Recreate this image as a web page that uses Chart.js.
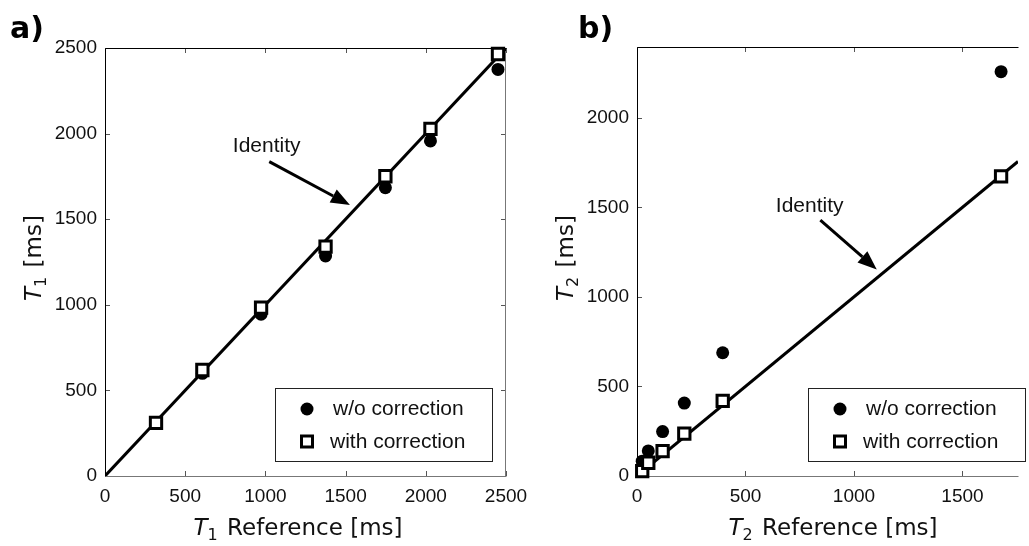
<!DOCTYPE html>
<html>
<head>
<meta charset="utf-8">
<script src="https://cdn.jsdelivr.net/npm/chart.js@4.4.1/dist/chart.umd.min.js"></script>
<style>
  html, body { margin: 0; padding: 0; background: #fff; }
  #wrap { position: relative; width: 1029px; height: 546px; overflow: hidden; }
  canvas { position: absolute; top: 0; }
</style>
</head>
<body>
<div id="wrap">
  <canvas id="chartA" width="540" height="546" style="left:0px"></canvas>
  <canvas id="chartB" width="509" height="546" style="left:520px"></canvas>
</div>
<script>
// panel a) T1
const t1Reference = [318, 607, 973, 1375, 1748, 2029, 2450];
const t1WithoutCorr = [308, 600, 945, 1285, 1684, 1957, 2375];
const t1WithCorr = [310, 619, 983, 1340, 1751, 2028, 2465];
const t1Ticks = [0, 500, 1000, 1500, 2000, 2500];

// panel b) T2
const t2Reference = [24, 52, 118, 218, 395, 1678];
const t2WithoutCorr = [83, 140, 248, 407, 688, 2257];
const t2WithCorr = [27, 74, 139, 237, 419, 1673];
const t2XTicks = [0, 500, 1000, 1500];
const t2YTicks = [0, 500, 1000, 1500, 2000];

const legendLabels = ['w/o correction', 'with correction'];

function pts(xs, ys) {
  return xs.map((x, i) => ({ x: x, y: ys[i] }));
}

function drawTitle(ctx, cx, cy, sub, rest, rotate) {
  ctx.save();
  ctx.translate(cx, cy);
  if (rotate) ctx.rotate(-Math.PI / 2);
  ctx.fillStyle = '#111';
  ctx.textBaseline = 'alphabetic';
  const big = 'italic 23px "DejaVu Sans"';
  const small = '16px "DejaVu Sans"';
  const norm = '23px "DejaVu Sans"';
  ctx.font = big; const wT = ctx.measureText('T').width;
  ctx.font = small; const wS = ctx.measureText(sub).width;
  ctx.font = norm; const wR = ctx.measureText(rest).width;
  let x = -(wT + wS + 2 + wR) / 2;
  const base = 8;
  ctx.font = big; ctx.textAlign = 'left'; ctx.fillText('T', x, base); x += wT;
  ctx.font = small; ctx.fillText(sub, x, base + 5); x += wS + 2;
  ctx.font = norm; ctx.fillText(rest, x, base);
  ctx.restore();
}

function drawArrow(ctx, x0, y0, x1, y1) {
  const ang = Math.atan2(y1 - y0, x1 - x0);
  const hl = 19, hw = 7.5;
  ctx.save();
  ctx.strokeStyle = '#000';
  ctx.fillStyle = '#000';
  ctx.lineWidth = 3;
  ctx.beginPath();
  ctx.moveTo(x0, y0);
  ctx.lineTo(x1 - hl * Math.cos(ang), y1 - hl * Math.sin(ang));
  ctx.stroke();
  ctx.beginPath();
  ctx.moveTo(x1, y1);
  ctx.lineTo(x1 - hl * Math.cos(ang) + hw * Math.sin(ang), y1 - hl * Math.sin(ang) - hw * Math.cos(ang));
  ctx.lineTo(x1 - hl * Math.cos(ang) - hw * Math.sin(ang), y1 - hl * Math.sin(ang) + hw * Math.cos(ang));
  ctx.closePath();
  ctx.fill();
  ctx.restore();
}

// frame, inward ticks, annotation, legend, titles
const decor = {
  id: 'decor',
  beforeDatasetsDraw(chart, args, o) {
    const ctx = chart.ctx;
    const a = chart.chartArea;
    ctx.save();
    ctx.lineWidth = 1;
    ctx.strokeStyle = '#555';
    chart.scales.x.ticks.forEach(t => {
      const px = Math.round(chart.scales.x.getPixelForValue(t.value)) + 0.5;
      ctx.beginPath();
      ctx.moveTo(px, a.bottom); ctx.lineTo(px, a.bottom - 5);
      ctx.moveTo(px, a.top); ctx.lineTo(px, a.top + 5);
      ctx.stroke();
    });
    chart.scales.y.ticks.forEach(t => {
      const py = Math.round(chart.scales.y.getPixelForValue(t.value)) + 0.5;
      ctx.beginPath();
      ctx.moveTo(a.left, py); ctx.lineTo(a.left + 5, py);
      if (o.rightBorder) { ctx.moveTo(a.right, py); ctx.lineTo(a.right - 5, py); }
      ctx.stroke();
    });
    const l = Math.round(a.left) + 0.5, t = Math.round(a.top) + 0.5;
    const r = Math.round(a.right) - 0.5, b = Math.round(a.bottom) + 0.5;
    ctx.strokeStyle = '#000';
    ctx.beginPath();
    ctx.moveTo(l, b); ctx.lineTo(l, t); ctx.lineTo(r + 1, t);
    ctx.stroke();
    ctx.strokeStyle = '#777';
    ctx.beginPath();
    ctx.moveTo(l, b); ctx.lineTo(r + 1, b);
    if (o.rightBorder) { ctx.moveTo(r, b); ctx.lineTo(r, t); }
    ctx.stroke();
    ctx.restore();
  },
  afterDatasetsDraw(chart, args, o) {
    const ctx = chart.ctx;
    const sx = chart.scales.x, sy = chart.scales.y;
    // "Identity" note and arrow
    ctx.save();
    ctx.font = '21px "Liberation Sans"';
    ctx.fillStyle = '#111';
    ctx.textAlign = 'center';
    ctx.textBaseline = 'middle';
    ctx.fillText('Identity', sx.getPixelForValue(o.note[0]), sy.getPixelForValue(o.note[1]));
    ctx.restore();
    drawArrow(ctx, sx.getPixelForValue(o.arrow[0]), sy.getPixelForValue(o.arrow[1]),
      sx.getPixelForValue(o.arrow[2]), sy.getPixelForValue(o.arrow[3]));
    // legend box
    const lg = o.legend;
    ctx.save();
    ctx.fillStyle = '#fff';
    ctx.fillRect(lg.x, lg.y, lg.w, lg.h);
    ctx.strokeStyle = '#222';
    ctx.lineWidth = 1;
    ctx.strokeRect(lg.x + 0.5, lg.y + 0.5, lg.w, lg.h);
    ctx.fillStyle = '#000';
    ctx.beginPath();
    ctx.arc(lg.x + 32, lg.y + 21, 6.5, 0, Math.PI * 2);
    ctx.fill();
    ctx.fillStyle = '#fff';
    ctx.strokeStyle = '#000';
    ctx.lineWidth = 3;
    ctx.fillRect(lg.x + 26.5, lg.y + 48, 11, 11);
    ctx.strokeRect(lg.x + 26.5, lg.y + 48, 11, 11);
    ctx.font = '21px "Liberation Sans"';
    ctx.fillStyle = '#111';
    ctx.textAlign = 'left';
    ctx.textBaseline = 'middle';
    ctx.fillText(legendLabels[0], lg.x + 58, lg.y + 21);
    ctx.fillText(legendLabels[1], lg.x + 55, lg.y + 54);
    ctx.restore();
    // panel label and axis titles
    ctx.save();
    ctx.font = 'bold 30px "DejaVu Sans"';
    ctx.fillStyle = '#000';
    ctx.textAlign = 'left';
    ctx.textBaseline = 'middle';
    ctx.fillText(o.panel, o.panelX, 30);
    ctx.restore();
    drawTitle(ctx, o.xTitleX, 527, o.sub, ' Reference [ms]', false);
    drawTitle(ctx, o.yTitleX, 258, o.sub, ' [ms]', true);
  }
};

function makeChart(id, ref, noCorr, corr, lim, xTicks, yTicks, xMax, yMax, yAxisW, pad, deco) {
  const tickFont = { family: 'Liberation Sans', size: 19 };
  new Chart(document.getElementById(id), {
    type: 'scatter',
    data: {
      datasets: [
        {
          label: 'Identity',
          data: [{ x: 0, y: 0 }, { x: lim, y: lim }],
          showLine: true,
          borderColor: '#000',
          borderWidth: 3,
          pointRadius: 0,
          order: 3
        },
        {
          label: legendLabels[0],
          data: pts(ref, noCorr),
          pointStyle: 'circle',
          pointRadius: 6.5,
          backgroundColor: '#000',
          borderWidth: 0,
          clip: false,
          order: 2
        },
        {
          label: legendLabels[1],
          data: pts(ref, corr),
          pointStyle: 'rect',
          pointRadius: 8,
          backgroundColor: '#fff',
          borderColor: '#000',
          borderWidth: 3,
          clip: false,
          order: 1
        }
      ]
    },
    options: {
      responsive: false,
      maintainAspectRatio: false,
      animation: false,
      layout: { padding: pad },
      plugins: {
        legend: { display: false },
        tooltip: { enabled: false },
        decor: deco
      },
      scales: {
        x: {
          type: 'linear',
          min: 0,
          max: xMax,
          grid: { display: false, drawTicks: false },
          border: { display: false },
          ticks: { font: tickFont, color: '#111', padding: 9, maxRotation: 0, callback: v => String(v) },
          afterBuildTicks: s => { s.ticks = xTicks.map(v => ({ value: v })); },
          afterFit: s => { s.height = 70; }
        },
        y: {
          type: 'linear',
          min: 0,
          max: yMax,
          grid: { display: false, drawTicks: false },
          border: { display: false },
          ticks: { font: tickFont, color: '#111', padding: 8, callback: v => String(v) },
          afterBuildTicks: s => { s.ticks = yTicks.map(v => ({ value: v })); },
          afterFit: s => { s.width = yAxisW; }
        }
      }
    },
    plugins: [decor]
  });
}

makeChart('chartA', t1Reference, t1WithoutCorr, t1WithCorr, 2500, t1Ticks, t1Ticks, 2500, 2500, 105,
  { top: 48, right: 34, left: 0, bottom: 0 },
  {
    rightBorder: true,
    note: [1008, 1928],
    arrow: [1024, 1836, 1527, 1583],
    legend: { x: 275, y: 388, w: 217, h: 73 },
    panel: 'a)', panelX: 10,
    sub: '1', xTitleX: 298, yTitleX: 33
  });

makeChart('chartB', t2Reference, t2WithoutCorr, t2WithCorr, 1756, t2XTicks, t2YTicks, 1756, 2395, 117,
  { top: 47, right: 0, left: 0, bottom: 0 },
  {
    rightBorder: false,
    note: [796, 1506],
    arrow: [845, 1428, 1105, 1153],
    legend: { x: 288, y: 388, w: 217, h: 73 },
    panel: 'b)', panelX: 58,
    sub: '2', xTitleX: 313, yTitleX: 45
  });
</script>
</body>
</html>
